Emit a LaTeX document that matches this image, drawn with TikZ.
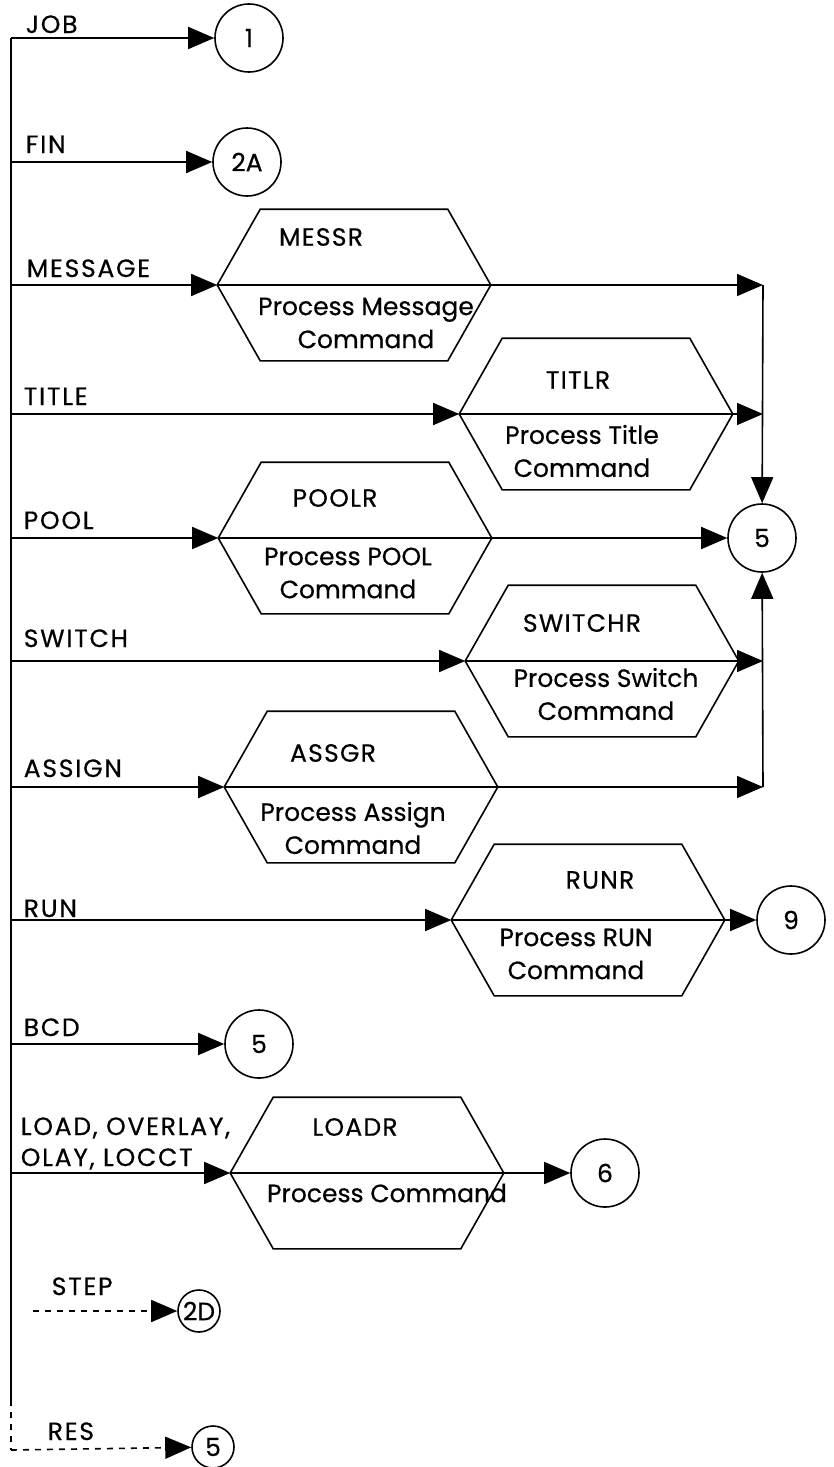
\documentclass[tikz,border=0pt]{standalone}
\usepackage{fontspec}
\setmainfont{Poppins}[FakeBold=0.5]
\usetikzlibrary{arrows.meta}

% outline of a two-part hexagon box around a named node
\newcommand{\drawhex}[1]{%
  \draw ([xshift=21.5pt]#1.north west) -- ([xshift=-21.5pt]#1.north east) -- (#1.east)
    -- ([xshift=-21.5pt]#1.south east) -- ([xshift=21.5pt]#1.south west) -- (#1.west) -- cycle;
  \draw (#1.west) -- (#1.east);
}

\begin{document}
\begin{tikzpicture}[
  x=0.5pt, y=-0.5pt, line width=0.8pt,
  font=\fontsize{12.5}{16.5}\selectfont,
  hexnode/.style={minimum width=136pt, minimum height=75pt, inner sep=0pt},
  hextitle/.style={font=\fontsize{12.5}{16.5}\selectfont\addfontfeature{LetterSpace=5}},
  refnode/.style={draw, circle, minimum size=34pt, inner sep=0pt},
  smallref/.style={draw, circle, minimum size=21pt, inner sep=0pt},
  cmdlabel/.style={anchor=base west, inner sep=0pt,
    font=\fontsize{12.5}{15}\selectfont\addfontfeature{LetterSpace=7}},
  proctext/.style={align=center, inner sep=0pt},
  flow/.style={-{Triangle[length=13pt, width=11pt]}},
]
  \useasboundingbox (0,0) rectangle (834,1467);

  % command rows on the left bus
  \foreach \n/\y in {job/38, fin/162, mess/285, title/414, pool/538, switch/661,
                     assign/787, run/920, bcd/1044, load/1173}
    {\coordinate (b-\n) at (11,\y);}
  \coordinate (b-end) at (11,1400);
  \coordinate (b-res) at (11,1450);
  \coordinate (s-step) at (33,1311);

  \node[cmdlabel] (l-job) at (25,33) {JOB};
  \node[cmdlabel] (l-fin) at (25,153) {FIN};
  \node[cmdlabel] (l-mess) at (26,277) {MESSAGE};
  \node[cmdlabel] (l-title) at (23,405) {TITLE};
  \node[cmdlabel] (l-pool) at (23,529) {POOL};
  \node[cmdlabel] (l-switch) at (23,647) {SWITCH};
  \node[cmdlabel] (l-assign) at (23,777) {ASSIGN};
  \node[cmdlabel] (l-run) at (23,917) {RUN};
  \node[cmdlabel] (l-bcd) at (23,1036) {BCD};
  \node[cmdlabel] (l-load) at (20,1135) {LOAD, OVERLAY,};
  \node[cmdlabel] (l-olay) at (20,1166) {OLAY, LOCCT};
  \node[cmdlabel] (l-step) at (51,1295) {STEP};
  \node[cmdlabel] (l-res) at (47,1440) {RES};

  % processing boxes
  \node[hexnode] (messr) at (354,285) {};
  \node[hexnode] (titlr) at (596,414) {};
  \node[hexnode] (poolr) at (355,538) {};
  \node[hexnode] (switchr) at (602,661) {};
  \node[hexnode] (assgr) at (361,787) {};
  \node[hexnode] (runr) at (588,920) {};
  \node[hexnode] (loadr) at (367,1173) {};
  \foreach \h in {messr, titlr, poolr, switchr, assgr, runr, loadr}
    {\drawhex{\h}}

  \node[hextitle] (messr-t) at (321,237) {MESSR};
  \node[proctext] (messr-d) at (366,323) {Process Message\\Command};
  \node[hextitle] (titlr-t) at (578,380) {TITLR};
  \node[proctext] (titlr-d) at (582,451) {Process Title\\Command};
  \node[hextitle] (poolr-t) at (335,498) {POOLR};
  \node[proctext] (poolr-d) at (348,573) {Process POOL\\Command};
  \node[hextitle] (switchr-t) at (582,623) {SWITCHR};
  \node[proctext] (switchr-d) at (606,694) {Process Switch\\Command};
  \node[hextitle] (assgr-t) at (333,753) {ASSGR};
  \node[proctext] (assgr-d) at (353,828) {Process Assign\\Command};
  \node[hextitle] (runr-t) at (600,880) {RUNR};
  \node[proctext] (runr-d) at (576,954) {Process RUN\\Command};
  \node[hextitle] (loadr-t) at (355,1127) {LOADR};
  \node[proctext] (loadr-d) at (387,1193) {Process Command};

  % connectors
  \node[refnode] (c1) at (249,38) {1};
  \node[refnode] (c2a) at (247,162) {2A};
  \node[refnode] (c5) at (762,538) {5};
  \node[refnode] (c9) at (791,920) {9};
  \node[refnode] (c5b) at (259,1044) {5};
  \node[refnode] (c6) at (605,1173) {6};
  \node[smallref] (c2d) at (199,1311) {2D};
  \node[smallref] (c5c) at (213,1447) {5};

  \coordinate (j-mess) at (763,285);
  \coordinate (j-title) at (763,414);
  \coordinate (j-switch) at (763,661);
  \coordinate (j-assign) at (763,787);

  % bus
  \draw (b-job) -- (b-end);
  \draw[dashed] (b-end) -- (b-res);

  \draw[flow] (b-job) -- (c1);
  \draw[flow] (b-fin) -- (c2a);
  \draw[flow] (b-mess) -- (messr.west);
  \draw[flow] (b-title) -- (titlr.west);
  \draw[flow] (b-pool) -- (poolr.west);
  \draw[flow] (b-switch) -- (switchr.west);
  \draw[flow] (b-assign) -- (assgr.west);
  \draw[flow] (b-run) -- (runr.west);
  \draw[flow] (b-bcd) -- (c5b);
  \draw[flow] (b-load) -- (loadr.west);
  \draw[flow, dashed] (s-step) -- (c2d);
  \draw[flow, dashed] (b-res) -- (c5c);

  \draw[flow] (messr.east) -- (j-mess);
  \draw[flow] (titlr.east) -- (j-title);
  \draw[flow] (poolr.east) -- (c5);
  \draw[flow] (switchr.east) -- (j-switch);
  \draw[flow] (assgr.east) -- (j-assign);
  \draw[flow] (j-mess) -- (c5);
  \draw[flow] (j-assign) -- (c5);
  \draw[flow] (runr.east) -- (c9);
  \draw[flow] (loadr.east) -- (c6);
\end{tikzpicture}
\end{document}
